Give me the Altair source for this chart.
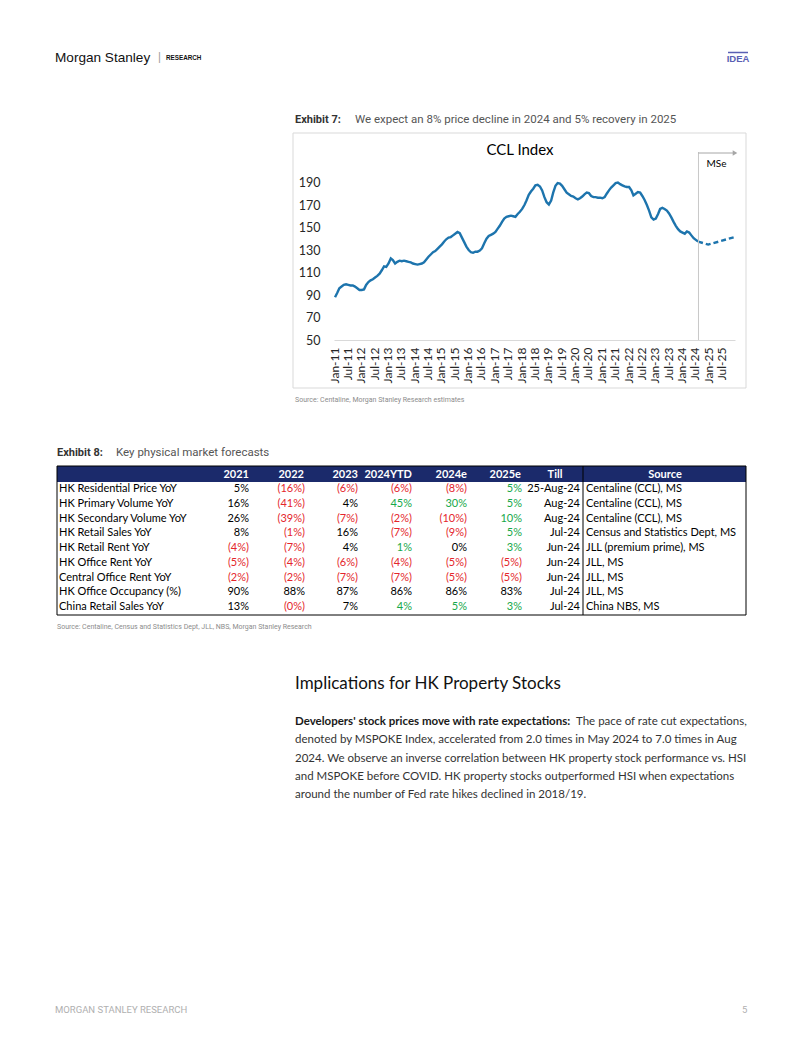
import altair as alt
import pandas as pd

# ---------------- CCL Index (monthly readings from the chart) ----------------
ccl_2011 = [88, 92, 96, 97.5, 99, 99.5, 99, 98.5, 98.5, 97.5, 96, 94.5]
ccl_2012 = [94.5, 95, 99, 101.5, 103, 104, 105.5, 107, 109, 112, 115.5, 115]
ccl_2013 = [118, 122.5, 121, 118, 119.5, 120.5, 120, 120.5, 120, 119.5, 119, 118]
ccl_2014 = [117.5, 117, 117.5, 118, 119, 121.5, 124, 126, 128, 129, 131, 133]
ccl_2015 = [135, 137.5, 139.5, 141, 141.5, 143, 144.5, 146, 145, 141, 137, 133]
ccl_2016 = [130, 128, 127.5, 128.5, 128.5, 129.5, 131.5, 136, 140, 142.5, 143.5, 144.5]
ccl_2017 = [146, 149, 151.5, 155, 158, 159.5, 160, 160.5, 160, 159.5, 162, 164]
ccl_2018 = [166.5, 170, 174, 179, 182, 184.5, 187.5, 188, 186.5, 183, 177, 172.5]
ccl_2019 = [170.5, 174, 181, 187, 189.5, 189, 187, 184, 181, 179.5, 178, 177.5]
ccl_2020 = [176, 175, 176, 177.5, 179.5, 181, 180.5, 178, 177, 177, 176.5, 176.5]
ccl_2021 = [176, 177, 180, 183, 185.5, 187.5, 189.5, 190, 188.5, 187.5, 186.5, 186]
ccl_2022 = [186, 183, 178.5, 180, 181.5, 181, 178, 174.5, 170, 165, 159, 157]
ccl_2023 = [158, 162, 166.5, 167.5, 166.5, 165, 162.5, 159, 155, 151.5, 148.5, 146.5]
ccl_2024 = [145.5, 144.5, 146.5, 145.5, 143, 140.5, 139, 137.5]

fc_dates = ["2024-08-15", "2024-12-31", "2025-12-31"]
fc_values = [137.5, 134.8, 141.6]

mse_date = ["2024-08-20"]
arrow_end = ["2026-01-01"]
y_ticks = [50, 70, 90, 110, 130, 150, 170, 190]
x_tick_years = list(range(2011, 2026))
x_tick_months = [1, 7]

# ---------------- Exhibit 8 table ----------------
row_labels = ["HK Residential Price YoY", "HK Primary Volume YoY", "HK Secondary Volume YoY",
              "HK Retail Sales YoY", "HK Retail Rent YoY", "HK Office Rent YoY",
              "Central Office Rent YoY", "HK Office Occupancy (%)", "China Retail Sales YoY"]
col_names = ["2021", "2022", "2023", "2024YTD", "2024e", "2025e"]
v2021 = ["5%", "16%", "26%", "8%", "(4%)", "(5%)", "(2%)", "90%", "13%"]
v2022 = ["(16%)", "(41%)", "(39%)", "(1%)", "(7%)", "(4%)", "(2%)", "88%", "(0%)"]
v2023 = ["(6%)", "4%", "(7%)", "16%", "4%", "(6%)", "(7%)", "87%", "7%"]
v2024ytd = ["(6%)", "45%", "(2%)", "(7%)", "1%", "(4%)", "(7%)", "86%", "4%"]
v2024e = ["(8%)", "30%", "(10%)", "(9%)", "0%", "(5%)", "(5%)", "86%", "5%"]
v2025e = ["5%", "5%", "10%", "5%", "3%", "(5%)", "(5%)", "83%", "3%"]
till = ["25-Aug-24", "Aug-24", "Aug-24", "Jul-24", "Jun-24", "Jun-24", "Jun-24", "Jul-24", "Jul-24"]
source = ["Centaline (CCL), MS", "Centaline (CCL), MS", "Centaline (CCL), MS",
          "Census and Statistics Dept, MS", "JLL (premium prime), MS", "JLL, MS", "JLL, MS",
          "JLL, MS", "China NBS, MS"]
forecast_cols = ["2024YTD", "2024e", "2025e"]

para = [
    "denoted by MSPOKE Index, accelerated from 2.0 times in May 2024 to 7.0 times in Aug",
    "2024. We observe an inverse correlation between HK property stock performance vs. HSI",
    "and MSPOKE before COVID. HK property stocks outperformed HSI when expectations",
    "around the number of Fed rate hikes declined in 2018/19.",
]

# ---------------- layout ----------------
X0, Y0 = 334, 160          # plot origin on the page
W, H = 401, 180
SVG_W, SVG_H = 782, 1014
PAD = {"left": X0 - 8, "top": Y0 - 8,
       "right": SVG_W - (X0 - 8) - W, "bottom": SVG_H - (Y0 - 8) - H}

CAL = "Lato"
ROB = "Roboto"
SANS = "'Liberation Sans', Arial, sans-serif"
BLUE = "#1d74ad"
RED = "#e4262c"
GREEN = "#16a84a"
NAVY = "#1b2a6b"
BODY = 11.5


def rx(x):
    return x - X0


def ry(y):
    return y - Y0


def txt(s, x, y, size, font, color="#000000", weight="normal", align="left"):
    return alt.Chart(pd.DataFrame({"t": [s]})).mark_text(
        align=align, baseline="middle", fontSize=size, font=font, color=color,
        fontWeight=weight
    ).encode(x=alt.value(rx(x)), y=alt.value(ry(y)), text="t:N")


def box(x1, y1, x2, y2, fill="transparent", stroke="transparent", sw=1):
    return alt.Chart(pd.DataFrame({"k": [0]})).mark_rect(
        fill=fill, stroke=stroke, strokeWidth=sw
    ).encode(x=alt.value(rx(x1)), x2=alt.value(rx(x2)),
             y=alt.value(ry(y1)), y2=alt.value(ry(y2)))


def hline(x1, x2, y, color, sw=1):
    return alt.Chart(pd.DataFrame({"k": [0]})).mark_rule(color=color, strokeWidth=sw).encode(
        x=alt.value(rx(x1)), x2=alt.value(rx(x2)), y=alt.value(ry(y)))


def vline(x, y1, y2, color, sw=1):
    return alt.Chart(pd.DataFrame({"k": [0]})).mark_rule(color=color, strokeWidth=sw).encode(
        x=alt.value(rx(x)), y=alt.value(ry(y1)), y2=alt.value(ry(y2)))


# ---------------- CCL chart ----------------
ccl_values = (ccl_2011 + ccl_2012 + ccl_2013 + ccl_2014 + ccl_2015 + ccl_2016 + ccl_2017 +
              ccl_2018 + ccl_2019 + ccl_2020 + ccl_2021 + ccl_2022 + ccl_2023 + ccl_2024)
dates = pd.date_range("2011-01-01", periods=len(ccl_values), freq="MS") + pd.Timedelta(days=14)
ccl_df = pd.DataFrame({"date": dates.strftime("%Y-%m-%d"), "ccl": ccl_values})
fc_df = pd.DataFrame({"date": fc_dates, "ccl": fc_values})

xs = alt.Scale(domain=[alt.DateTime(year=2011, month=1, date=1),
                       alt.DateTime(year=2026, month=1, date=1)])
ys = alt.Scale(domain=[50, 210], nice=False, zero=False)
x_ticks = [alt.DateTime(year=yy, month=mm, date=1) for yy in x_tick_years for mm in x_tick_months]

line = alt.Chart(ccl_df).mark_line(color=BLUE, strokeWidth=2.4).encode(
    x=alt.X("date:T", scale=xs, title=None,
            axis=alt.Axis(values=x_ticks, format="%b-%y", labelAngle=270, ticks=False,
                          grid=False, domainColor="#d9d9d9", domainWidth=1,
                          labelFont=CAL, labelFontSize=12, labelColor="#262626",
                          labelPadding=7, labelOverlap=False, labelBound=False,
                          labelFlush=False)),
    y=alt.Y("ccl:Q", scale=ys, title=None,
            axis=alt.Axis(values=y_ticks, ticks=False, grid=False, domain=False,
                          labelFont=CAL, labelFontSize=12.5, labelColor="#262626",
                          labelPadding=14)),
)
fc_line = alt.Chart(fc_df).mark_line(color=BLUE, strokeWidth=2.4, strokeDash=[5, 3]).encode(
    x=alt.X("date:T", scale=xs, axis=None), y=alt.Y("ccl:Q", scale=ys, axis=None))

mse_df = pd.DataFrame({"d": mse_date, "d2": arrow_end, "lab": ["MSe"]})
mse_rule = alt.Chart(mse_df).mark_rule(color="#c8c8c8", strokeWidth=1).encode(
    x=alt.X("d:T", scale=xs, axis=None), y=alt.value(ry(152)), y2=alt.value(ry(340)))
mse_arrow = alt.Chart(mse_df).mark_rule(color="#a6a6a6", strokeWidth=1).encode(
    x=alt.X("d:T", scale=xs, axis=None), x2="d2:T", y=alt.value(ry(153)))
mse_head = alt.Chart(mse_df).mark_point(shape="triangle-right", filled=True, size=28,
                                        color="#a6a6a6", opacity=1).encode(
    x=alt.X("d2:T", scale=xs, axis=None), y=alt.value(ry(153)))
mse_text = alt.Chart(mse_df).mark_text(align="left", baseline="middle", dx=8, font=CAL,
                                       fontSize=10, color="#000000").encode(
    x=alt.X("d:T", scale=xs, axis=None), y=alt.value(ry(164)), text="lab:N")

# ---------------- table ----------------
col_vals = [v2021, v2022, v2023, v2024ytd, v2024e, v2025e]
col_right = [249, 305, 358, 412, 467, 522]
header_x = [249, 304, 358, 412, 467, 521]
row_scale = alt.Scale(domain=row_labels, range=[ry(489), ry(607)], padding=0)


def tone(col, ri, v):
    if v.startswith("("):
        return RED
    if col in forecast_cols and "Occupancy" not in row_labels[ri] and v != "0%":
        return GREEN
    return "#000000"


table_layers = []
lab_df = pd.DataFrame({"row": row_labels})
table_layers.append(alt.Chart(lab_df).mark_text(align="left", baseline="middle", font=CAL,
                                                fontSize=11, color="#000000").encode(
    x=alt.value(rx(59)), y=alt.Y("row:N", scale=row_scale, axis=None), text="row:N"))
for c, vals, xr in zip(col_names, col_vals, col_right):
    df = pd.DataFrame({"row": row_labels, "val": vals,
                       "clr": [tone(c, i, v) for i, v in enumerate(vals)]})
    table_layers.append(alt.Chart(df).mark_text(align="right", baseline="middle", font=CAL,
                                                fontSize=11).encode(
        x=alt.value(rx(xr)), y=alt.Y("row:N", scale=row_scale, axis=None), text="val:N",
        color=alt.Color("clr:N", scale=None)))
till_df = pd.DataFrame({"row": row_labels, "till": till, "src": source})
table_layers.append(alt.Chart(till_df).mark_text(align="right", baseline="middle", font=CAL,
                                                 fontSize=11, color="#000000").encode(
    x=alt.value(rx(580)), y=alt.Y("row:N", scale=row_scale, axis=None), text="till:N"))
table_layers.append(alt.Chart(till_df).mark_text(align="left", baseline="middle", font=CAL,
                                                 fontSize=11, color="#000000").encode(
    x=alt.value(rx(586)), y=alt.Y("row:N", scale=row_scale, axis=None), text="src:N"))

header_layers = [box(57, 466, 746, 482, fill=NAVY)]
for c, xh in zip(col_names, header_x):
    header_layers.append(txt(c, xh, 474.5, 11, CAL, "#ffffff", "bold", "right"))
header_layers.append(txt("Till", 555, 474.5, 11, CAL, "#ffffff", "bold", "center"))
header_layers.append(txt("Source", 665, 474.5, 11, CAL, "#ffffff", "bold", "center"))

table_frame = [box(57, 466, 746, 615, stroke="#000000", sw=1), vline(583, 466, 615, "#000000")]

# ---------------- page texts ----------------
page = [
    txt("Morgan Stanley", 55, 57.5, 13.6, SANS, "#111111"),
    txt("|", 158, 57, 12, ROB, "#999999"),
    txt("RESEARCH", 166, 58, 6.3, SANS, "#111111", "bold"),
    hline(728, 748, 52.5, "#5a60b4", 1.5),
    txt("IDEA", 738, 59, 9.5, SANS, "#5a60b4", "bold", "center"),
    txt("Exhibit 7:", 295, 120, 11, ROB, "#333333", "bold"),
    txt("We expect an 8% price decline in 2024 and 5% recovery in 2025", 355, 120, 11.5, ROB,
        "#555555"),
    box(293, 133, 746, 388, stroke="#d9d9d9", sw=1),
    txt("CCL Index", 520, 150, 15, CAL, "#000000", "normal", "center"),
    txt("Source: Centaline, Morgan Stanley Research estimates", 295, 400, 7, ROB, "#8c8c8c"),
    txt("Exhibit 8:", 57, 453, 11, ROB, "#333333", "bold"),
    txt("Key physical market forecasts", 116, 453, 11.5, ROB, "#555555"),
    txt("Source: Centaline, Census and Statistics Dept, JLL, NBS, Morgan Stanley Research", 57, 627,
        7, ROB, "#8c8c8c"),
    txt("Implications for HK Property Stocks", 295, 684, 17, CAL, "#111111"),
    txt("Developers' stock prices move with rate expectations:", 295, 722, BODY, CAL, "#1a1a1a",
        "bold"),
    txt("The pace of rate cut expectations,", 576, 722, BODY, CAL, "#333333"),
    txt("MORGAN STANLEY RESEARCH", 55, 1010, 9.5, ROB, "#b0b0b0"),
    txt("5", 742, 1010, 9.5, ROB, "#b0b0b0"),
]
for i, s in enumerate(para):
    page.append(txt(s, 295, 740.3 + i * 18.35, BODY, CAL, "#333333"))

chart = alt.layer(
    *page, line, fc_line, mse_rule, mse_arrow, mse_head, mse_text,
    *header_layers, *table_layers, *table_frame
).resolve_scale(
    x="independent", y="independent", color="independent"
).properties(
    width=W, height=H, padding=PAD, background="#ffffff",
    autosize=alt.AutoSizeParams(type="none")
).configure_view(strokeWidth=0)

chart.save("out.html", embed_options={"renderer": "svg", "actions": False})
